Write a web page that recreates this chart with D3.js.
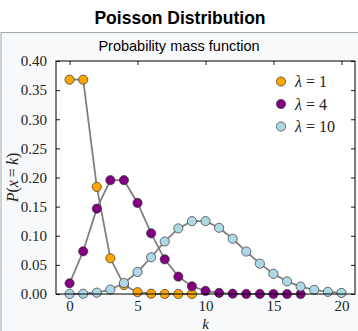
<!DOCTYPE html>
<html><head><meta charset="utf-8">
<script src="https://cdn.jsdelivr.net/npm/d3@7"></script>
<style>body{margin:0;background:#fff}svg{display:block}</style>
</head><body>
<script>
const kValues1 = [0,1,2,3,4,5,6,7,8,9];
const lambda1 = [0.3679,0.3679,0.1839,0.0613,0.0153,0.0031,0.0005,0.0001,0.0000,0.0000];
const kValues4 = [0,1,2,3,4,5,6,7,8,9,10,11,12,13,14,15,16,17];
const lambda4 = [0.0183,0.0733,0.1465,0.1954,0.1954,0.1563,0.1042,0.0595,0.0298,0.0132,0.0053,0.0019,0.0006,0.0002,0.0001,0.0000,0.0000,0.0000];
const kValues10 = [0,1,2,3,4,5,6,7,8,9,10,11,12,13,14,15,16,17,18,19,20];
const lambda10 = [0.0000,0.0005,0.0023,0.0076,0.0189,0.0378,0.0631,0.0901,0.1126,0.1251,0.1251,0.1137,0.0948,0.0729,0.0521,0.0347,0.0217,0.0128,0.0071,0.0037,0.0019];
const seriesNames = ["1","4","10"];
const seriesColors = ["#ffa500","#800080","#add8e6"];
const xTicks = [0,5,10,15,20];
const yTicks = [0,0.05,0.10,0.15,0.20,0.25,0.30,0.35,0.40];

const W = 358, H = 331;
const svg = d3.select("body").append("svg").attr("width", W).attr("height", H);

// outer box
svg.append("rect").attr("x",1).attr("y",32.5).attr("width",W+5).attr("height",H)
  .attr("fill","#f8f9fa").attr("stroke","#a2a9b1").attr("stroke-width",1);

svg.append("text").attr("x",180).attr("y",24).attr("text-anchor","middle")
  .attr("font-family","Liberation Sans, Arial, sans-serif").attr("font-weight","bold")
  .attr("font-size",17.5).attr("fill","#000").text("Poisson Distribution");
svg.append("text").attr("x",179).attr("y",51).attr("text-anchor","middle")
  .attr("font-family","Liberation Sans, Arial, sans-serif")
  .attr("font-size",14.5).attr("fill","#000").text("Probability mass function");

const L = 56, R = 355, T = 61, B = 294;
const x = d3.scaleLinear().domain([-1,21]).range([L,R]);
const y = d3.scaleLinear().domain([0,0.40]).range([B,T]);

svg.append("rect").attr("x",L).attr("y",T).attr("width",R-L).attr("height",B-T).attr("fill","#fff");

const serif = "Liberation Serif, Times New Roman, serif";

const gx = svg.append("g").attr("transform",`translate(0,${B})`)
  .call(d3.axisBottom(x).tickValues(xTicks).tickSizeInner(-4).tickSizeOuter(0).tickPadding(6).tickFormat(d3.format("d")));
const gxt = svg.append("g").attr("transform",`translate(0,${T})`)
  .call(d3.axisTop(x).tickValues(xTicks).tickSizeInner(-4).tickSizeOuter(0).tickFormat(""));
const gy = svg.append("g").attr("transform",`translate(${L},0)`)
  .call(d3.axisLeft(y).tickValues(yTicks).tickSizeInner(-4).tickSizeOuter(0).tickPadding(9).tickFormat(d3.format(".2f")));
const gyr = svg.append("g").attr("transform",`translate(${R},0)`)
  .call(d3.axisRight(y).tickValues(yTicks).tickSizeInner(-4).tickSizeOuter(0).tickFormat(""));
[gx,gxt,gy,gyr].forEach(g=>{
  g.select(".domain").remove();
  g.selectAll(".tick line").attr("stroke","#000").attr("stroke-width",0.9);
  g.selectAll("text").attr("font-family",serif).attr("font-size",15).attr("fill","#222");
});

const series = [
  {k:kValues1, p:lambda1},
  {k:kValues4, p:lambda4},
  {k:kValues10, p:lambda10}
];
const line = d3.line().x(d=>x(d[0])).y(d=>y(d[1]));
series.forEach((s,i)=>{
  const pts = s.k.map((k,j)=>[k,s.p[j]]);
  svg.append("path").datum(pts).attr("d",line).attr("fill","none")
    .attr("stroke","#808080").attr("stroke-width",1.8);
  svg.append("g").selectAll("circle").data(pts).join("circle")
    .attr("cx",d=>x(d[0])).attr("cy",d=>y(d[1])).attr("r",4.6)
    .attr("fill",seriesColors[i]).attr("stroke","#333").attr("stroke-width",0.7);
});

// frame
svg.append("rect").attr("x",L).attr("y",T).attr("width",R-L).attr("height",B-T)
  .attr("fill","none").attr("stroke","#000").attr("stroke-width",1);

// legend
const leg = svg.append("g");
seriesNames.forEach((n,i)=>{
  const yy = 81.5 + i*22.5;
  leg.append("circle").attr("cx",281).attr("cy",yy).attr("r",4.6)
    .attr("fill",seriesColors[i]).attr("stroke","#333").attr("stroke-width",0.7);
  const t = leg.append("text").attr("x",295).attr("y",yy+5.5).attr("font-family",serif)
    .attr("font-size",16).attr("fill","#222");
  t.append("tspan").attr("font-style","italic").text("λ");
  t.append("tspan").attr("dx",4).text("=");
  t.append("tspan").attr("dx",4).text(n);
});

// axis labels
svg.append("text").attr("x",205.5).attr("y",329).attr("text-anchor","middle")
  .attr("font-family",serif).attr("font-style","italic").attr("font-size",15).attr("fill","#222").text("k");
const yl = svg.append("text").attr("transform","translate(18,177.5) rotate(-90)").attr("text-anchor","middle")
  .attr("font-family",serif).attr("font-size",16).attr("fill","#222");
yl.append("tspan").attr("font-style","italic").text("P");
yl.append("tspan").text("(");
yl.append("tspan").attr("font-style","italic").text("x");
yl.append("tspan").attr("dx",3).text("=");
yl.append("tspan").attr("dx",3).attr("font-style","italic").text("k");
yl.append("tspan").text(")");
</script>
</body></html>
